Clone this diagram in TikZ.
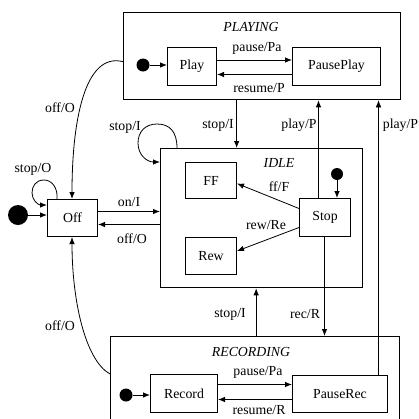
\documentclass[tikz,border=0pt]{standalone}
\usepackage{fontspec}
\setmainfont{Liberation Serif}
\usetikzlibrary{arrows.meta}
\begin{document}
\begin{tikzpicture}[x=1pt,y=-1pt,
  every node/.style={font=\fontsize{13.8}{16}\selectfont},
  comp/.style={draw, line width=1.3pt, inner sep=0pt, anchor=north west},
  st/.style={draw, line width=1pt, inner sep=0pt, anchor=north west},
  lbl/.style={inner sep=0pt},
  ttl/.style={inner sep=0pt, font=\fontsize{13.8}{16}\selectfont\itshape},
  dot/.style={circle, fill=black, inner sep=0pt, minimum size=#1},
  tr/.style={line width=0.8pt, -{Latex[length=7pt,width=5.5pt]}},
  thin tr/.style={line width=0.5pt, -{Latex[length=7pt,width=5.5pt]}}
]
\useasboundingbox (0,0) rectangle (419,418);
\clip (0,0) rectangle (419,418);
% composite states
\node[comp, minimum width=277pt, minimum height=87pt] (playing) at (123,12) {};
\node[comp, minimum width=202pt, minimum height=139pt] (idle) at (160,148) {};
\node[comp, minimum width=289pt, minimum height=120pt] (recording) at (110,336) {};
\node[ttl] (tplaying) at (251,27) {PLAYING};
\node[ttl] (tidle) at (279,163) {IDLE};
\node[ttl] (trecording) at (251,352) {RECORDING};
% simple states
\node[st, minimum width=49pt, minimum height=38pt] (play) at (167,47) {};
\node at (play.center) {Play};
\node[st, minimum width=88pt, minimum height=38pt] (pauseplay) at (292,47) {};
\node at (pauseplay.center) {PausePlay};
\node[st, minimum width=50pt, minimum height=37pt] (off) at (47,199) {};
\node at (off.center) {Off};
\node[st, minimum width=51pt, minimum height=36pt] (ff) at (185,162) {};
\node at (ff.center) {FF};
\node[st, minimum width=51pt, minimum height=37pt] (rew) at (185,237) {};
\node at (rew.center) {Rew};
\node[st, minimum width=51pt, minimum height=38pt] (stop) at (299,198) {};
\node at (stop.center) {Stop};
\node[st, minimum width=67pt, minimum height=38pt] (record) at (150,374) {};
\node at (record.center) {Record};
\node[st, minimum width=95pt, minimum height=37pt] (pauserec) at (292,375) {};
\node at (pauserec.center) {PauseRec};
% initial dots
\node[dot=13pt] (i1) at (143,65) {};
\node[dot=12pt] (i2) at (337,174) {};
\node[dot=13pt] (i3) at (126,395) {};
\node[dot=20pt] (i0) at (18,215) {};
% initial transitions
\draw[tr] (i1) -- (i1 -| play.west);
\draw[tr] (i2) -- (i2 |- stop.north);
\draw[tr] (i3) -- (i3 -| record.west);
\draw[tr] (i0) -- (i0 -| off.west);
% PLAYING internals
\draw[tr] ([yshift=6.5pt]play.east) -- ([yshift=6.5pt]pauseplay.west);
\draw[tr] ([yshift=-8pt]pauseplay.west) -- ([yshift=-8pt]play.east);
\node[lbl] (l1) at (257,48) {pause/Pa};
\node[lbl] (l2) at (259,88) {resume/P};
% RECORDING internals
\draw[tr] ([yshift=9pt]record.east) -- ([yshift=9pt]record.east -| pauserec.west);
\draw[tr] ([yshift=-6pt]record.east -| pauserec.west) -- ([yshift=-6pt]record.east);
\node[lbl] (l3) at (258,372) {pause/Pa};
\node[lbl] (l4) at (259,410) {resume/R};
% IDLE internals
\draw[tr] ([yshift=9pt]stop.west) -- ([yshift=-3pt]ff.east);
\draw[tr] ([yshift=-10pt]stop.west) -- ([yshift=5pt]rew.east);
\node[lbl] (l5) at (279,187) {ff/F};
\node[lbl] (l6) at (266,225) {rew/Re};
% between composites
\draw[tr] ([xshift=-25.5pt]playing.south) -- ([xshift=-25.5pt]playing.south |- idle.north);
\node[lbl] (l7) at (218,125) {stop/I};
\draw[tr] ([xshift=-6.5pt]stop.north) -- ([xshift=-6.5pt]stop.north |- playing.south);
\node[lbl] (l8) at (299,125) {play/P};
\draw[thin tr] ([xshift=38.5pt]pauserec.north) -- ([xshift=38.5pt]pauserec.north |- playing.south);
\node[lbl] (l9) at (400.5,125) {play/P};
\draw[tr] ([xshift=-0.5pt]stop.south) -- ([xshift=-0.5pt]stop.south |- recording.north);
\node[lbl] (l10) at (305,314) {rec/R};
\draw[tr] ([xshift=1pt]recording.north) -- ([xshift=1pt]recording.north |- idle.south);
\node[lbl] (l11) at (230,314) {stop/I};
% Off <-> IDLE
\draw[tr] ([yshift=6.5pt]off.east) -- ([yshift=6.5pt]off.east -| idle.west);
\draw[tr] ([yshift=-6.5pt]off.east -| idle.west) -- ([yshift=-6.5pt]off.east);
\node[lbl] (l12) at (129,202) {on/I};
\node[lbl] (l13) at (132,239) {off/O};
% off/O curves
\draw[tr] ([yshift=-5.5pt]playing.west) .. controls (85,52) and (72,120) .. (off.north -| 72,0);
\node[lbl] (l14) at (60,108) {off/O};
\draw[tr] (recording.west |- 0,374) .. controls (85,360) and (72,300) .. (off.south -| 72,0);
\node[lbl] (l15) at (60,326) {off/O};
% self loops
\draw[tr] (off.north -| 57,0) .. controls (58,188) and (52,180) .. (44,180)
   .. controls (36,180) and (32,186) .. (32,193)
   .. controls (32,200) and (38,205) .. (off.west |- 0,205);
\node[lbl] (l16) at (33,169) {stop/O};
\draw[tr] (idle.north -| 177,0) .. controls (177,132) and (170,124) .. (157,124)
   .. controls (145,124) and (138,132) .. (138,143)
   .. controls (138,155) and (147,162) .. (idle.west |- 0,162);
\node[lbl] (l17) at (125,127) {stop/I};
\end{tikzpicture}
\end{document}
